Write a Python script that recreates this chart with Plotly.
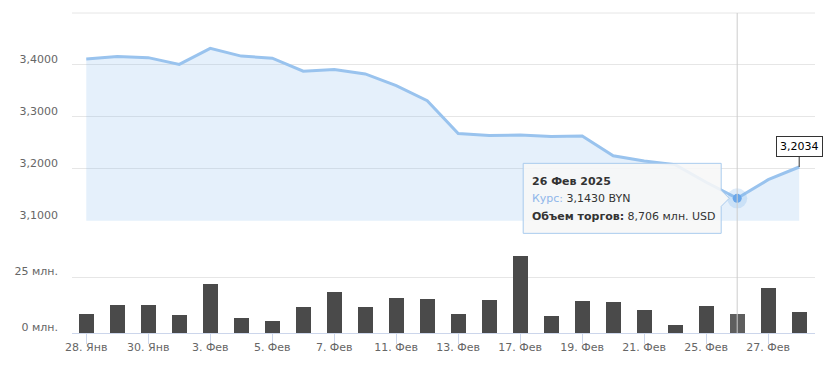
import plotly.graph_objects as go

# ---- data ----
dates = ["28 Янв", "29 Янв", "30 Янв", "31 Янв", "3 Фев", "4 Фев", "5 Фев", "6 Фев",
         "7 Фев", "10 Фев", "11 Фев", "12 Фев", "13 Фев", "14 Фев", "17 Фев", "18 Фев",
         "19 Фев", "20 Фев", "21 Фев", "24 Фев", "25 Фев", "26 Фев", "27 Фев", "28 Фев"]
rate = [3.4116, 3.4160, 3.4140, 3.4010, 3.4320, 3.4170, 3.4130, 3.3880, 3.3910, 3.3826,
        3.3600, 3.3310, 3.2680, 3.2640, 3.2650, 3.2620, 3.2630, 3.2250, 3.2150, 3.2080,
        3.1740, 3.1430, 3.1790, 3.2034]
volume = [8.6, 12.6, 12.6, 8.2, 22.0, 6.8, 5.5, 11.8, 18.5, 11.8, 15.8, 15.3, 8.6, 14.9,
          34.2, 7.7, 14.4, 14.0, 10.4, 3.7, 12.2, 8.706, 20.2, 9.5]
tick_dates = ["28 Янв", "30 Янв", "3 Фев", "5 Фев", "7 Фев", "11 Фев", "13 Фев",
              "17 Фев", "19 Фев", "21 Фев", "25 Фев", "27 Фев"]
tick_labels = ["28. Янв", "30. Янв", "3. Фев", "5. Фев", "7. Фев", "11. Фев", "13. Фев",
               "17. Фев", "19. Фев", "21. Фев", "25. Фев", "27. Фев"]
rate_ticks = [3.1, 3.2, 3.3, 3.4, 3.5]
rate_ticktext = ["3,1000", "3,2000", "3,3000", "3,4000", ""]
vol_ticks = [0, 25]
vol_ticktext = ["0 млн.", "25 млн."]
hover_idx = 21
tooltip_lines = ["<b>26 Фев 2025</b>",
                 "<span style='color:#8fb6ea'>Курс:</span> 3,1430 BYN",
                 "<b>Объем торгов:</b> 8,706 млн. USD"]
last_label = "3,2034"

FONT = "DejaVu Sans"
LINE = "#99c3ee"
FILL = "rgba(124,181,236,0.2)"
BAR = "#4a4a4a"
BAR_HOVER = "#5e5e5e"
GRID = "#e6e6e6"

fig = go.Figure()

fig.add_trace(go.Scatter(x=dates, y=rate, mode="lines", line=dict(color=LINE, width=3),
                         fill="tozeroy", fillcolor=FILL, xaxis="x", yaxis="y",
                         hoverinfo="skip"))
# hover halo + point
fig.add_trace(go.Scatter(x=[dates[hover_idx]], y=[rate[hover_idx]], mode="markers",
                         marker=dict(size=20, color="rgba(124,181,236,0.25)"),
                         xaxis="x", yaxis="y", hoverinfo="skip"))
fig.add_trace(go.Scatter(x=[dates[hover_idx]], y=[rate[hover_idx]], mode="markers",
                         marker=dict(size=9, color="#6aa7ea"),
                         xaxis="x", yaxis="y", hoverinfo="skip"))

bar_colors = [BAR_HOVER if i == hover_idx else BAR for i in range(len(dates))]
fig.add_trace(go.Bar(x=dates, y=volume, width=0.48, marker=dict(color=bar_colors, line=dict(width=0)),
                     xaxis="x2", yaxis="y2", hoverinfo="skip"))

xr = [-0.46, 23.51]
yr = [3.1, 3.5]
ydom = [0.351, 1.0]
fig.update_layout(
    width=840, height=380,
    margin=dict(l=72, r=25, t=13, b=47, autoexpand=False),
    paper_bgcolor="white", plot_bgcolor="white",
    showlegend=False, hovermode=False,
    font=dict(family=FONT, size=11, color="#666666"),
    xaxis=dict(type="category", categoryorder="array", categoryarray=dates, range=xr,
               anchor="y", showticklabels=False, showgrid=False, zeroline=False,
               showline=False, ticks="", automargin=False),
    yaxis=dict(domain=ydom, range=yr, tickvals=rate_ticks,
               ticktext=rate_ticktext, gridcolor=GRID, gridwidth=1, zeroline=False,
               showline=False, ticks="", ticklabelstandoff=13, ticklabelshift=-6,
               automargin=False),
    xaxis2=dict(type="category", categoryorder="array", categoryarray=dates, range=xr,
                anchor="y2", matches="x", tickvals=tick_dates, ticktext=tick_labels,
                showgrid=False, zeroline=False, showline=True, linecolor="#ccd6eb",
                linewidth=1, ticks="outside", ticklen=10, tickcolor="#ccd6eb",
                tickwidth=1, ticklabelstandoff=-6, automargin=False),
    yaxis2=dict(domain=[0.0, 0.275], range=[0, 39.3], tickvals=vol_ticks,
                ticktext=vol_ticktext, gridcolor=GRID, zeroline=False,
                showline=False, ticks="", ticklabelstandoff=13, ticklabelshift=-6,
                automargin=False),
    bargap=0,
)

# top gridline (edge of the rate panel)
fig.add_shape(type="line", xref="x domain", yref="paper", x0=0, x1=1,
              y0=ydom[1], y1=ydom[1], line=dict(color=GRID, width=1), layer="below")

# crosshair
fig.add_shape(type="line", xref="x", yref="paper", x0=dates[hover_idx], x1=dates[hover_idx],
              y0=0, y1=1, line=dict(color="#cccccc", width=1), layer="above")

# tooltip callout (box with pointer), sized in pixels around the hovered point
hx, hy = dates[hover_idx], rate[hover_idx]
px_anchor = (hover_idx - xr[0]) / (xr[1] - xr[0])
py_anchor = ydom[0] + (hy - yr[0]) / (yr[1] - yr[0]) * (ydom[1] - ydom[0])
fig.add_shape(type="path", xref="paper", yref="paper", xsizemode="pixel", ysizemode="pixel",
              xanchor=px_anchor, yanchor=py_anchor,
              path="M -214,-35 L -16,-35 L -16,-8 L -8,0 L -16,8 L -16,35 L -214,35 Z",
              fillcolor="rgba(247,247,247,0.88)", line=dict(color="#a9cbee", width=1),
              layer="above")
for line_txt, ys in zip(tooltip_lines, [17, 0, -18.5]):
    fig.add_annotation(x=hx, y=hy, xref="x", yref="y", text=line_txt, showarrow=False,
                       xanchor="left", yanchor="middle", xshift=-207, yshift=ys,
                       font=dict(family=FONT, size=11, color="#333333"))

# last value label
fig.add_annotation(x=dates[-1], y=rate[-1], xref="x", yref="y", text=last_label,
                   showarrow=True, arrowhead=0, arrowwidth=1, arrowcolor="#333333",
                   ax=0, ay=-20, bgcolor="white", bordercolor="#333333", borderwidth=1,
                   borderpad=3, font=dict(family=FONT, size=11, color="#000000"))

fig.write_html("out.html", config={"displayModeBar": False},
               post_script="document.body.style.margin='0';document.body.style.padding='0';")
